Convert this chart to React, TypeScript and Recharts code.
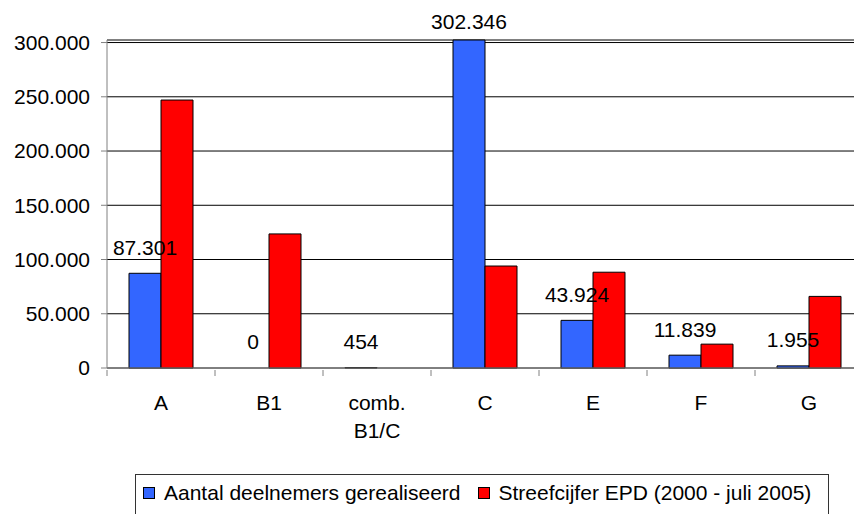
import { BarChart, Bar, XAxis, YAxis, CartesianGrid, LabelList } from 'recharts'

const categories = ['A', 'B1', 'comb.\nB1/C', 'C', 'E', 'F', 'G']
const gerealiseerd = [87301, 0, 454, 302346, 43924, 11839, 1955]
const streefcijfer = [247000, 123600, 0, 94000, 88300, 22000, 66000]
const yTicks = [0, 50000, 100000, 150000, 200000, 250000, 300000]
const seriesNames = ['Aantal deelnemers gerealiseerd', 'Streefcijfer EPD (2000 - juli 2005)']
const seriesColors = ['#3366ff', '#ff0000']

const data = categories.map((name, i) => ({
  name,
  gerealiseerd: gerealiseerd[i],
  streefcijfer: streefcijfer[i],
}))

const FONT = '"Liberation Sans", Arial, sans-serif'
const BAND = 108

// dutch thousands separator
const fmt = (v: number) => String(v).replace(/\B(?=(\d{3})+(?!\d))/g, '.')

// eslint-disable-next-line @typescript-eslint/no-explicit-any
function CategoryTick({ x, y, payload }: any) {
  const lines = String(payload.value).split('\n')
  return (
    <g>
      <line x1={x - BAND / 2} x2={x - BAND / 2} y1={y} y2={y + 6} stroke="#808080" />
      {lines.map((l, i) => (
        <text key={i} x={x} y={y + 32 + i * 28} textAnchor="middle" dominantBaseline="central" fontSize={21} fill="#000" fontFamily={FONT}>
          {l}
        </text>
      ))}
    </g>
  )
}

// eslint-disable-next-line @typescript-eslint/no-explicit-any
function ValueLabel({ x, y, value }: any) {
  return (
    <text x={x} y={Math.max(y - 26, 21)} textAnchor="middle" dominantBaseline="central" fontSize={21} fill="#000" fontFamily={FONT}>
      {fmt(value)}
    </text>
  )
}

// label carrier needs a non-zero height, otherwise the bar (and its label) is skipped
const labelKey = (d: { gerealiseerd: number }) => Math.max(d.gerealiseerd, 1)

export default function App() {
  return (
    <div style={{ position: 'absolute', left: 0, top: 0, width: 854, height: 514, background: '#fff', overflow: 'hidden', fontFamily: FONT }}>
      <BarChart width={854} height={514} data={data} margin={{ top: 40, right: -9, bottom: 86, left: 0 }} barGap={0}>
        <CartesianGrid vertical={false} stroke="#000" />
        <XAxis dataKey="name" height={60} stroke="#808080" tickLine={false} tickSize={0} tick={<CategoryTick />} interval={0} />
        <XAxis xAxisId="lbl" dataKey="name" hide />
        <YAxis
          width={107}
          domain={[0, 'dataMax']}
          ticks={yTicks}
          stroke="#808080"
          tickSize={6}
          tickMargin={11}
          tickFormatter={fmt}
          tick={{ fill: '#000', fontSize: 21, fontFamily: FONT }}
        />
        <Bar dataKey="gerealiseerd" name={seriesNames[0]} fill={seriesColors[0]} stroke="#000" strokeWidth={1} barSize={32} isAnimationActive={false} />
        <Bar dataKey="streefcijfer" name={seriesNames[1]} fill={seriesColors[1]} stroke="#000" strokeWidth={1} barSize={32} isAnimationActive={false} />
        <Bar xAxisId="lbl" dataKey={labelKey} fill="none" barSize={32} legendType="none" isAnimationActive={false}>
          <LabelList dataKey="gerealiseerd" content={<ValueLabel />} />
        </Bar>
      </BarChart>
      <div
        style={{
          position: 'absolute',
          left: 135,
          top: 474,
          width: 694,
          height: 60,
          boxSizing: 'border-box',
          border: '1px solid #333',
          display: 'flex',
          alignItems: 'flex-start',
          paddingLeft: 7,
          paddingTop: 6,
          fontSize: 21,
          color: '#000',
          whiteSpace: 'nowrap',
        }}
      >
        {seriesNames.map((n, i) => (
          <div key={n} style={{ display: 'flex', alignItems: 'center', marginRight: 17 }}>
            <span style={{ display: 'inline-block', width: 10, height: 10, background: seriesColors[i], border: '1px solid #000', marginRight: 9 }} />
            <span>{n}</span>
          </div>
        ))}
      </div>
    </div>
  )
}
